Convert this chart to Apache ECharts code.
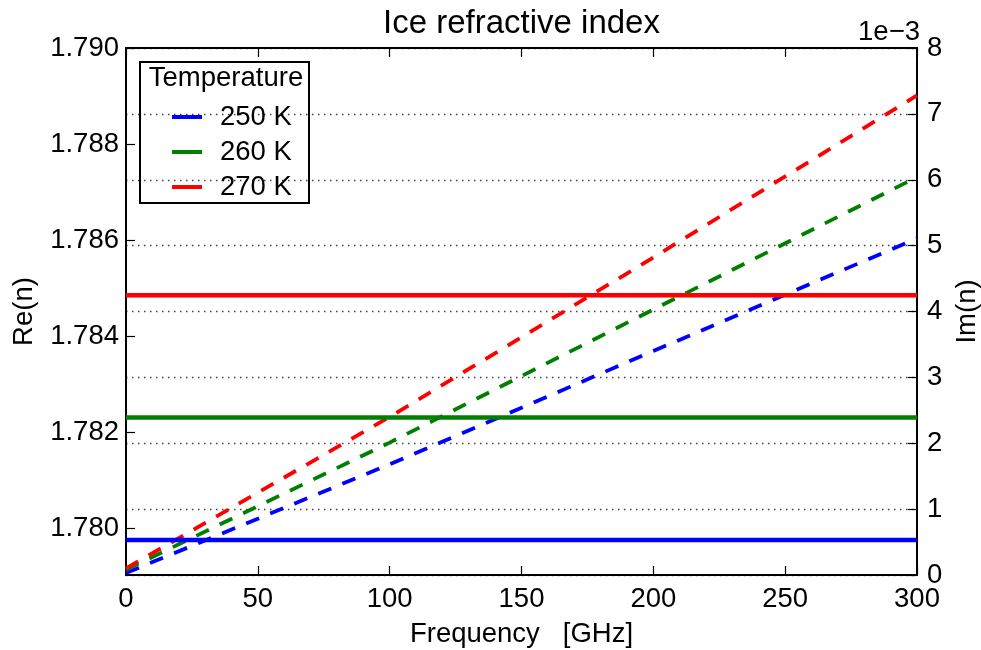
<!DOCTYPE html>
<html>
<head>
<meta charset="utf-8">
<script src="https://cdn.jsdelivr.net/npm/echarts@6/dist/echarts.min.js"></script>
<style>html,body{margin:0;padding:0;background:#fff;}#main{width:981px;height:650px;}</style>
</head>
<body>
<div id="main"></div>
<script>
// ---- data ----
const temperatures = ['250 K', '260 K', '270 K'];
const colors = ['#0000ff', '#008000', '#ff0000'];
const freqRange = [0, 300];                 // GHz, solid lines span the full axis
const reValues = [1.77975, 1.7823, 1.78485]; // Re(n) per temperature
const imFreqs = [0, 100, 200, 300];          // GHz
const imBlue  = [0.03e-3, 1.68e-3, 3.40e-3, 5.11e-3];
const imGreen = [0.08e-3, 2.01e-3, 4.03e-3, 6.04e-3];
const imRed   = [0.10e-3, 2.40e-3, 4.82e-3, 7.28e-3];
const imValues = [imBlue, imGreen, imRed];
const xTicks = [0, 50, 100, 150, 200, 250, 300];
const reTicks = [1.780, 1.782, 1.784, 1.786, 1.788, 1.790];
const imTicks = [0, 1, 2, 3, 4, 5, 6, 7, 8]; // ×1e-3

const FONT = '"Liberation Sans", Arial, sans-serif';
const FS = 27.5;
const chart = echarts.init(document.getElementById('main'), null, {renderer: 'canvas'});

const series = [];
temperatures.forEach((t, i) => {
  series.push({
    name: t, type: 'line', xAxisIndex: 0, yAxisIndex: 0,
    data: freqRange.map(f => [f, reValues[i]]),
    showSymbol: false, symbol: 'none', silent: true, animation: false,
    lineStyle: {color: colors[i], width: 4.5}, itemStyle: {color: colors[i]}, z: 3
  });
});
temperatures.forEach((t, i) => {
  series.push({
    name: t + ' Im', type: 'line', xAxisIndex: 0, yAxisIndex: 1,
    data: imFreqs.map((f, k) => [f, imValues[i][k]]),
    showSymbol: false, symbol: 'none', silent: true, animation: false,
    lineStyle: {color: colors[i], width: 3.8, type: [14, 12]}, itemStyle: {color: colors[i]}, z: 2
  });
});

const axisLineStyle = {show: true, onZero: false, lineStyle: {color: '#000', width: 2}};
const tickStyle = {show: true, inside: true, length: 9, lineStyle: {color: '#000', width: 1.2}};
const labelFont = {color: '#000', fontFamily: FONT, fontSize: FS};

const option = {
  backgroundColor: '#fff',
  animation: false,
  textStyle: {fontFamily: FONT},
  grid: {left: 126, right: 64, top: 48, bottom: 75, containLabel: false, outerBoundsMode: 'none'},
  legend: {
    data: temperatures, orient: 'vertical', left: 167, top: 98,
    icon: 'rect', itemWidth: 30, itemHeight: 4, itemGap: 7,
    selectedMode: false,
    textStyle: {color: '#000', fontFamily: FONT, fontSize: FS, lineHeight: FS, padding: [0, 0, 0, 13]}
  },
  xAxis: [
    {
      type: 'value', position: 'bottom', min: xTicks[0], max: xTicks[xTicks.length - 1], interval: 50,
      name: 'Frequency   [GHz]', nameLocation: 'middle', nameGap: 45,
      nameTextStyle: {color: '#000', fontFamily: FONT, fontSize: FS},
      axisLine: axisLineStyle, axisTick: tickStyle,
      axisLabel: Object.assign({margin: 10}, labelFont),
      splitLine: {show: false}
    },
    {
      type: 'value', position: 'top', min: xTicks[0], max: xTicks[xTicks.length - 1], interval: 50,
      axisLine: axisLineStyle, axisTick: tickStyle, axisLabel: {show: false}, splitLine: {show: false}
    }
  ],
  yAxis: [
    {
      type: 'value', position: 'left', min: 1.77902, max: 1.790,
      name: 'Re(n)', nameLocation: 'middle', nameGap: 88, nameRotate: 90,
      nameTextStyle: {color: '#000', fontFamily: FONT, fontSize: FS},
      axisLine: axisLineStyle,
      axisTick: Object.assign({customValues: reTicks}, tickStyle),
      axisLabel: Object.assign({customValues: reTicks, margin: 7, formatter: v => v.toFixed(3)}, labelFont),
      splitLine: {show: false}
    },
    {
      type: 'value', position: 'right', min: imTicks[0] * 1e-3, max: imTicks[imTicks.length - 1] * 1e-3, interval: 1e-3,
      name: 'Im(n)', nameLocation: 'middle', nameGap: 31, nameRotate: 90,
      nameTextStyle: {color: '#000', fontFamily: FONT, fontSize: FS},
      axisLine: axisLineStyle, axisTick: tickStyle,
      axisLabel: Object.assign({margin: 10, formatter: v => String(Math.round(v * 1000))}, labelFont),
      splitLine: {show: true, lineStyle: {color: '#444', width: 1.3, type: [1.5, 4.5]}}
    }
  ],
  graphic: [
    {type: 'text', x: 521.5, y: 24, z: 10,
      style: {text: 'Ice refractive index', fontSize: 33, fontFamily: FONT, fill: '#000', align: 'center', verticalAlign: 'middle'}},
    {type: 'text', x: 920, y: 32, z: 10,
      style: {text: '1e\u22123', fontSize: FS, fontFamily: FONT, fill: '#000', align: 'right', verticalAlign: 'middle'}},
    {type: 'rect', shape: {x: 140, y: 62, width: 169, height: 141}, z: 10,
      style: {fill: 'none', stroke: '#000', lineWidth: 2}},
    {type: 'text', x: 226, y: 78, z: 10,
      style: {text: 'Temperature', fontSize: FS, fontFamily: FONT, fill: '#000', align: 'center', verticalAlign: 'middle'}}
  ],
  series: series
};
chart.setOption(option);
</script>
</body>
</html>
